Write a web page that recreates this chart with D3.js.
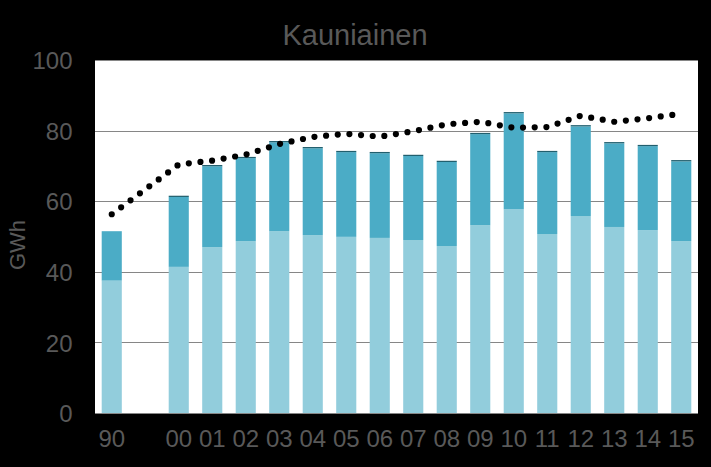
<!DOCTYPE html>
<html><head><meta charset="utf-8">
<script src="https://cdn.jsdelivr.net/npm/d3@7/dist/d3.min.js"></script>
<style>
html,body{margin:0;padding:0;background:#000;}
svg{display:block;}
text{font-family:"Liberation Sans",Arial,sans-serif;fill:#595959;}
</style></head>
<body>
<script>
const categories = ["90","","00","01","02","03","04","05","06","07","08","09","10","11","12","13","14","15"];
const lowerValues = [37.5,null,41.4,47.0,48.7,51.5,50.4,49.9,49.6,49.0,47.3,53.2,57.7,50.7,55.8,52.7,51.8,48.7];
const upperValues = [14.0,null,19.8,22.9,23.5,25.2,24.6,24.0,24.0,23.8,23.8,25.8,27.2,23.2,25.4,23.7,23.8,22.6];
const topValues   = [0,null,0.35,0.35,0.35,0.35,0.35,0.35,0.35,0.35,0.35,0.35,0.35,0.35,0.35,0.35,0.35,0.35];
const lineValues  = [56.3,null,70.4,71.5,73.2,76.2,78.2,79.1,78.3,79.8,81.8,82.5,80.8,81.0,84.2,82.5,83.5,84.8];
const yTicks = [0,20,40,60,80,100];
const title = "Kauniainen";
const yLabel = "GWh";

const W = 711, H = 467;
const m = {left:95, right:13, top:60, bottom:54};
const svg = d3.select("body").append("svg").attr("width",W).attr("height",H);
svg.append("rect").attr("width",W).attr("height",H).attr("fill","#000");

const x = d3.scaleBand().domain(categories.map((c,i)=>i)).range([m.left, W-m.right]).paddingInner(0.4).paddingOuter(0.2);
const y = d3.scaleLinear().domain([0,100]).range([H-m.bottom, m.top]);

svg.append("rect").attr("x",m.left).attr("y",m.top).attr("width",W-m.right-m.left).attr("height",H-m.bottom-m.top).attr("fill","#fff");

// grid
svg.append("g").selectAll("line").data(yTicks).join("line")
  .attr("x1",m.left).attr("x2",W-m.right)
  .attr("y1",d=>Math.round(y(d))+0.5).attr("y2",d=>Math.round(y(d))+0.5)
  .attr("stroke","#868686").attr("stroke-width",1.2);

// stacked bars
const rows = categories.map((c,i)=>({i, lower:lowerValues[i], upper:upperValues[i], top:topValues[i]}));
const keys = ["lower","upper","top"];
const colors = {lower:"#92CDDC", upper:"#4BACC6", top:"#215F6E"};
const stack = d3.stack().keys(keys).value((d,k)=>d[k]==null?0:d[k]);
const series = stack(rows.filter(r=>r.lower!=null));
svg.append("g").selectAll("g").data(series).join("g").attr("fill",s=>colors[s.key])
  .selectAll("rect").data(s=>s).join("rect")
  .attr("x",d=>x(d.data.i)).attr("width",x.bandwidth())
  .attr("y",d=>y(d[1])).attr("height",d=>Math.max(0,y(d[0])-y(d[1])));

// dotted line
const pts = lineValues.map((v,i)=>({i,v})).filter(d=>d.v!=null);
const line = d3.line().x(d=>x(d.i)+x.bandwidth()/2).y(d=>y(d.v));
svg.append("path").datum(pts).attr("d",line).attr("fill","none")
  .attr("stroke","#000").attr("stroke-width",6.2).attr("stroke-linecap","round")
  .attr("stroke-dasharray","0,11.7");

// y axis
const yAxis = d3.axisLeft(y).tickValues(yTicks).tickSize(0).tickPadding(22);
const ya = svg.append("g").attr("transform",`translate(${m.left-0.5},0)`).call(yAxis);
ya.select(".domain").remove();
ya.selectAll("text").attr("font-size","24px").attr("fill","#595959").attr("dy","0.36em")
  .style("font-family","'Liberation Sans',Arial,sans-serif");

// x axis
const xAxis = d3.axisBottom(x).tickFormat(i=>categories[i]).tickSize(0).tickPadding(17);
const xa = svg.append("g").attr("transform",`translate(0,${H-m.bottom})`).call(xAxis);
xa.select(".domain").remove();
xa.selectAll("text").attr("font-size","24px").attr("fill","#595959").attr("dy","0.71em")
  .style("font-family","'Liberation Sans',Arial,sans-serif");

// title
svg.append("text").attr("x",355).attr("y",45).attr("text-anchor","middle").attr("font-size","29px").text(title);
// y label
svg.append("text").attr("transform","translate(25,245) rotate(-90)").attr("text-anchor","middle").attr("font-size","22px").text(yLabel);
</script>
</body></html>
